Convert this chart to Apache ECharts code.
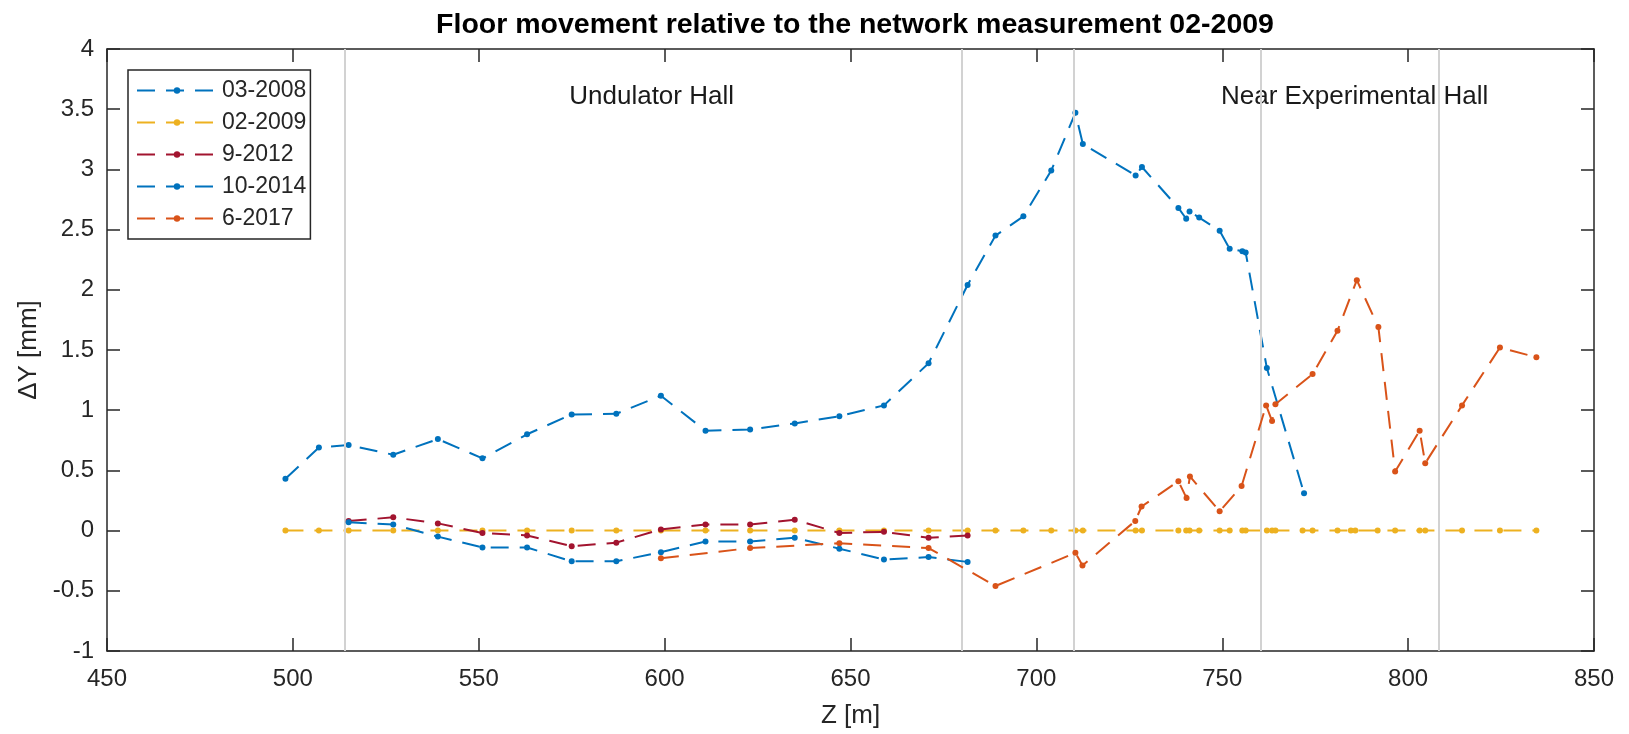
<!DOCTYPE html>
<html>
<head>
<meta charset="utf-8">
<title>Floor movement</title>
<script src="https://cdn.jsdelivr.net/npm/echarts@6/dist/echarts.min.js"></script>
<style>
  html, body { margin: 0; padding: 0; background: #fff; }
  #chart { width: 1629px; height: 734px; }
</style>
</head>
<body>
<div id="chart"></div>
<script>
// Z positions [m] and floor movement dY [mm] per measurement campaign
const z2008 = [498, 507, 515, 527, 539, 551, 563, 575, 587, 599, 611, 623, 635, 647, 659, 671,
  681.5, 689, 696.5, 704, 710.5, 712.5, 726.7, 728.4, 738.2, 740.3, 741.2, 743.8, 749.3, 752,
  755.4, 756.3, 762, 772];
const dy2008 = [0.43, 0.69, 0.71, 0.63, 0.76, 0.60, 0.80, 0.965, 0.97, 1.12, 0.83, 0.84, 0.89, 0.95, 1.04, 1.39,
  2.04, 2.45, 2.61, 2.99, 3.47, 3.21, 2.95, 3.02, 2.68, 2.59, 2.65, 2.60, 2.49, 2.34,
  2.32, 2.31, 1.35, 0.31];

const z2009 = [498, 507, 515, 527, 539, 551, 563, 575, 587, 599, 611, 623, 635, 647, 659, 671,
  681.5, 689, 696.5, 704, 710.5, 712.5, 726.7, 728.4, 738.2, 740.3, 741.2, 743.8, 749.3, 752,
  755.4, 756.3, 762, 763.4, 764.3, 771.6, 774.3, 781, 784.6, 785.8, 791.8, 796.5, 803.1, 804.6,
  814.5, 824.7, 834.5];
const dy2009 = [0, 0, 0, 0, 0, 0, 0, 0, 0, 0, 0, 0, 0, 0, 0, 0,
  0, 0, 0, 0, 0, 0, 0, 0, 0, 0, 0, 0, 0, 0,
  0, 0, 0, 0, 0, 0, 0, 0, 0, 0, 0, 0, 0, 0,
  0, 0, 0];

const z2012 = [515, 527, 539, 551, 563, 575, 587, 599, 611, 623, 635, 647, 659, 671, 681.5];
const dy2012 = [0.08, 0.11, 0.06, -0.02, -0.04, -0.13, -0.10, 0.01, 0.05, 0.05, 0.09, -0.02, -0.01, -0.06, -0.04];

const z2014 = [515, 527, 539, 551, 563, 575, 587, 599, 611, 623, 635, 647, 659, 671, 681.5];
const dy2014 = [0.07, 0.05, -0.05, -0.14, -0.14, -0.255, -0.255, -0.18, -0.09, -0.09, -0.06, -0.15, -0.24, -0.22, -0.26];

const z2017 = [599, 623, 647, 671, 689, 710.5, 712.4, 726.6, 728.3, 738.2, 740.4, 741.3, 749.3, 755.2,
  761.8, 763.4, 764.3, 774.3, 781, 786.2, 792, 796.5, 803.1, 804.6, 814.5, 824.7, 834.5];
const dy2017 = [-0.23, -0.145, -0.105, -0.145, -0.46, -0.185, -0.29, 0.08, 0.20, 0.41, 0.27, 0.45, 0.16, 0.37,
  1.04, 0.91, 1.05, 1.30, 1.66, 2.08, 1.69, 0.49, 0.83, 0.56, 1.04, 1.52, 1.44];

// hall boundaries [m]
const boundaries = [514, 680, 710, 760.3, 808.3];

// area labels
const areaNames = ["Undulator Hall", "Near Experimental Hall"];
const areaZ = [596.5, 785.6];
const areaY = [3.6, 3.6];

const seriesNames = ["03-2008", "02-2009", "9-2012", "10-2014", "6-2017"];
const seriesColors = ["#0072BD", "#EDB120", "#A2142F", "#0072BD", "#D95319"];
const seriesZ = [z2008, z2009, z2012, z2014, z2017];
const seriesDy = [dy2008, dy2009, dy2012, dy2014, dy2017];

const FONT = "'Liberation Sans', Arial, Helvetica, sans-serif";
const AXIS_COLOR = "#262626";

const zip = (xs, ys) => xs.map((x, i) => [x, ys[i]]);

const chart = echarts.init(document.getElementById("chart"));

const lineSeries = seriesNames.map((name, i) => ({
  name: name,
  type: "line",
  data: zip(seriesZ[i], seriesDy[i]),
  symbol: "circle",
  symbolSize: 6,
  showSymbol: true,
  animation: false,
  color: seriesColors[i],
  itemStyle: { color: seriesColors[i] },
  lineStyle: { color: seriesColors[i], width: 2, type: [18, 11] },
  z: 3 + i,
}));

// gray boundary lines go on the first series as a markLine
lineSeries[0].markLine = {
  silent: true,
  symbol: ["none", "none"],
  label: { show: false },
  lineStyle: { color: "#d2d2d2", width: 2, type: "solid" },
  data: boundaries.map((b) => ({ xAxis: b })),
  animation: false,
};

const labelSeries = {
  name: "areas",
  type: "scatter",
  data: areaNames.map((n, i) => [areaZ[i], areaY[i], n]),
  symbolSize: 0,
  silent: true,
  animation: false,
  itemStyle: { opacity: 1 },
  label: {
    show: true,
    position: "inside",
    formatter: (p) => p.value[2],
    fontFamily: FONT,
    fontSize: 26,
    color: "#1a1a1a",
    opacity: 1,
  },
};

const option = {
  backgroundColor: "#fff",
  animation: false,
  title: {
    text: "Floor movement relative to the network measurement 02-2009",
    left: 850,
    top: 6,
    textAlign: "center",
    textStyle: { fontFamily: FONT, fontSize: 28.5, fontWeight: "bold", color: "#000" },
  },
  legend: {
    data: seriesNames,
    orient: "vertical",
    left: 128,
    top: 70,
    padding: [9, 4, 9, 8],
    itemGap: 9,
    itemWidth: 80,
    itemHeight: 8,
    backgroundColor: "#fff",
    borderColor: AXIS_COLOR,
    borderWidth: 1.5,
    textStyle: { fontFamily: FONT, fontSize: 23, color: AXIS_COLOR },
  },
  grid: { left: 107, right: 35, top: 49, bottom: 83, containLabel: false },
  xAxis: [
    {
      type: "value",
      min: 450,
      max: 850,
      interval: 50,
      name: "Z [m]",
      nameLocation: "middle",
      nameGap: 52,
      nameTextStyle: { fontFamily: FONT, fontSize: 26, color: AXIS_COLOR },
      axisLine: { show: true, onZero: false, lineStyle: { color: AXIS_COLOR, width: 1.5 } },
      axisTick: { show: true, inside: true, length: 13, lineStyle: { color: AXIS_COLOR, width: 1.5 } },
      axisLabel: { fontFamily: FONT, fontSize: 24, color: AXIS_COLOR, margin: 16 },
      splitLine: { show: false },
    },
    {
      type: "value",
      position: "top",
      min: 450,
      max: 850,
      interval: 50,
      axisLine: { show: true, onZero: false, lineStyle: { color: AXIS_COLOR, width: 1.5 } },
      axisTick: { show: true, inside: true, length: 13, lineStyle: { color: AXIS_COLOR, width: 1.5 } },
      axisLabel: { show: false },
      splitLine: { show: false },
    },
  ],
  yAxis: [
    {
      type: "value",
      min: -1,
      max: 4,
      interval: 0.5,
      name: "ΔY [mm]",
      nameLocation: "middle",
      nameGap: 61,
      nameTextStyle: { fontFamily: FONT, fontSize: 26, color: AXIS_COLOR },
      axisLine: { show: true, onZero: false, lineStyle: { color: AXIS_COLOR, width: 1.5 } },
      axisTick: { show: true, inside: true, length: 13, lineStyle: { color: AXIS_COLOR, width: 1.5 } },
      axisLabel: { fontFamily: FONT, fontSize: 24, color: AXIS_COLOR, margin: 13 },
      splitLine: { show: false },
    },
    {
      type: "value",
      position: "right",
      min: -1,
      max: 4,
      interval: 0.5,
      axisLine: { show: true, onZero: false, lineStyle: { color: AXIS_COLOR, width: 1.5 } },
      axisTick: { show: true, inside: true, length: 13, lineStyle: { color: AXIS_COLOR, width: 1.5 } },
      axisLabel: { show: false },
      splitLine: { show: false },
    },
  ],
  series: [...lineSeries, labelSeries],
};

chart.setOption(option);
</script>
</body>
</html>
